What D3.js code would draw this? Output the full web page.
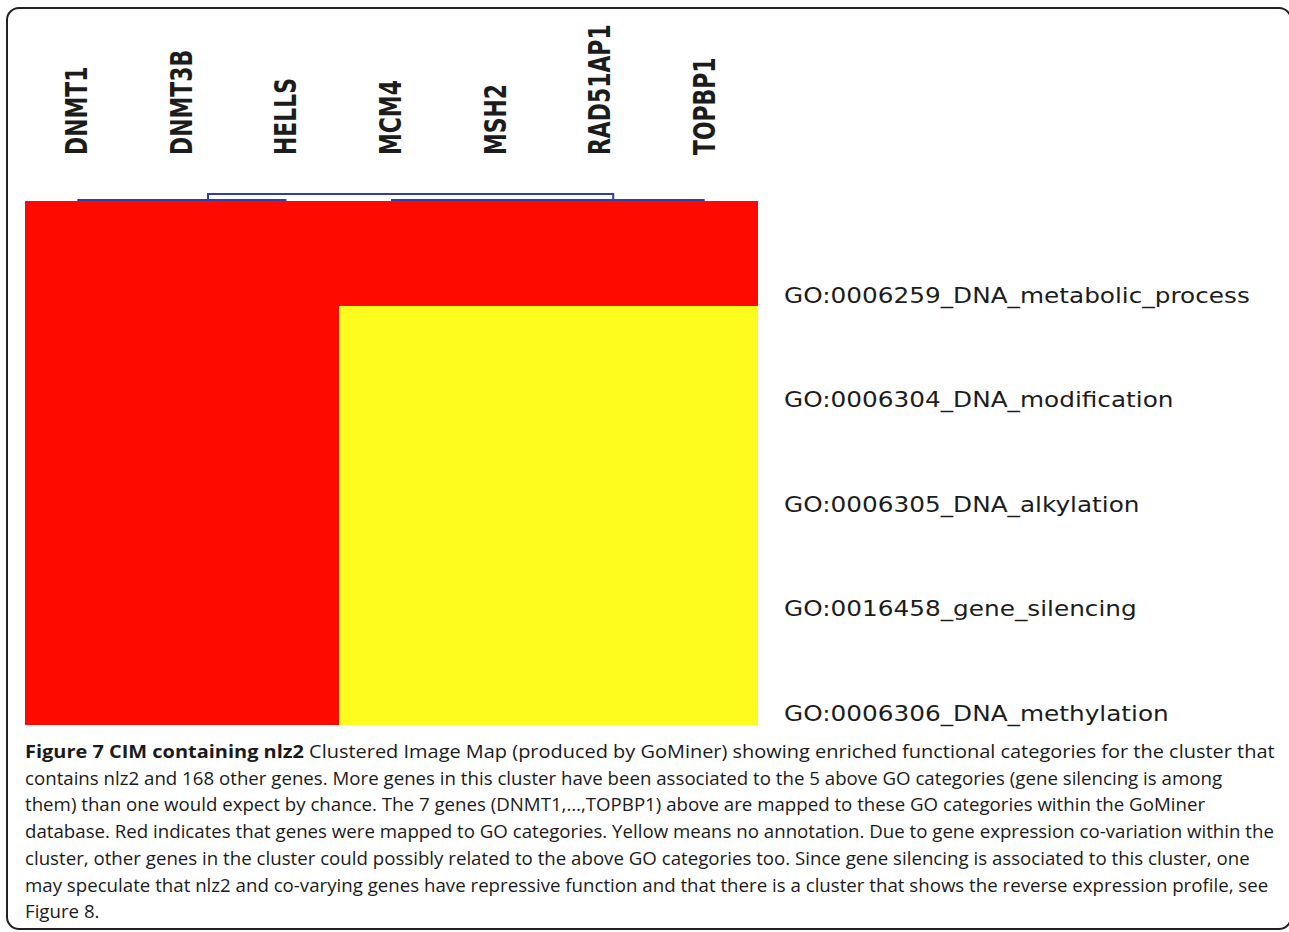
<!DOCTYPE html>
<html>
<head>
<meta charset="utf-8">
<script src="https://cdn.jsdelivr.net/npm/d3@7"></script>
<style>
  body { margin: 0; background: #fff; }
  svg { display: block; }
</style>
</head>
<body>
<div id="viz"></div>
<script>
// genes (columns) and GO categories (rows)
const genes = ['DNMT1', 'DNMT3B', 'HELLS', 'MCM4', 'MSH2', 'RAD51AP1', 'TOPBP1'];
const categories = [
  'GO:0006259_DNA_metabolic_process',
  'GO:0006304_DNA_modification',
  'GO:0006305_DNA_alkylation',
  'GO:0016458_gene_silencing',
  'GO:0006306_DNA_methylation'
];
// 1 = gene mapped to category (red), 0 = no annotation (yellow)
const mapped = [
  [1, 1, 1, 1, 1, 1, 1],
  [1, 1, 1, 0, 0, 0, 0],
  [1, 1, 1, 0, 0, 0, 0],
  [1, 1, 1, 0, 0, 0, 0],
  [1, 1, 1, 0, 0, 0, 0]
];
// gene dendrogram, merge heights
const geneTree = {
  height: 1, children: [
    { height: 0, children: [
      { height: 0, children: [{ name: 'DNMT1' }, { name: 'DNMT3B' }] },
      { name: 'HELLS' }
    ] },
    { height: 0, children: [
      { height: 0, children: [
        { height: 0, children: [{ name: 'MCM4' }, { name: 'MSH2' }] },
        { name: 'RAD51AP1' }
      ] },
      { name: 'TOPBP1' }
    ] }
  ]
};
const captionBold = 'Figure 7 CIM containing nlz2';
const captionLines = [
  ' Clustered Image Map (produced by GoMiner) showing enriched functional categories for the cluster that',
  'contains nlz2 and 168 other genes. More genes in this cluster have been associated to the 5 above GO categories (gene silencing is among',
  'them) than one would expect by chance. The 7 genes (DNMT1,\u2026,TOPBP1) above are mapped to these GO categories within the GoMiner',
  'database. Red indicates that genes were mapped to GO categories. Yellow means no annotation. Due to gene expression co-variation within the',
  'cluster, other genes in the cluster could possibly related to the above GO categories too. Since gene silencing is associated to this cluster, one',
  'may speculate that nlz2 and co-varying genes have repressive function and that there is a cluster that shows the reverse expression profile, see',
  'Figure 8.'
];

const width = 1289, height = 932;
const svg = d3.select('#viz').append('svg')
  .attr('width', width)
  .attr('height', height);

// frame
svg.append('rect')
  .attr('x', 7).attr('y', 8)
  .attr('width', 1284).attr('height', 921)
  .attr('rx', 12)
  .attr('fill', 'none')
  .attr('stroke', '#222')
  .attr('stroke-width', 2);

const x = d3.scaleBand().domain(genes).range([25, 757]).padding(0);
const y = d3.scaleBand().domain(categories).range([201, 724]).padding(0);
const color = d3.scaleOrdinal().domain([1, 0]).range(['#fe0a00', '#fdfc1e']);

// heatmap cells
const cells = [];
categories.forEach((c, i) => genes.forEach((g, j) => cells.push({ c, g, v: mapped[i][j] })));
svg.append('g')
  .attr('shape-rendering', 'crispEdges')
  .selectAll('rect')
  .data(cells)
  .enter().append('rect')
  .attr('x', d => Math.round(x(d.g)))
  .attr('y', d => Math.round(y(d.c)))
  .attr('width', d => Math.round(x(d.g) + x.bandwidth()) - Math.round(x(d.g)) + 1)
  .attr('height', d => Math.round(y(d.c) + y.bandwidth()) - Math.round(y(d.c)) + 1)
  .attr('fill', d => color(d.v));

// dendrogram
const root = d3.hierarchy(geneTree);
const hy = d3.scaleLinear().domain([0, 1]).range([200, 194]);
root.eachAfter(n => {
  if (n.children) {
    n.px = d3.mean(n.children, c => c.px);
    n.py = hy(n.data.height);
  } else {
    n.px = x(n.data.name) + x.bandwidth() / 2;
    n.py = hy(0);
  }
});
svg.append('g')
  .selectAll('path')
  .data(root.descendants().filter(n => n.children))
  .enter().append('path')
  .attr('d', n => {
    const [a, b] = n.children;
    return `M${a.px},${a.py}V${n.py}H${b.px}V${b.py}`;
  })
  .attr('fill', 'none')
  .attr('stroke', '#2f3fa6')
  .attr('stroke-width', 2);

// column labels
svg.append('g')
  .selectAll('text')
  .data(genes)
  .enter().append('text')
  .attr('transform', d => `translate(${x(d) + x.bandwidth() / 2 + 10},155) rotate(-90) scale(0.73,1)`)
  .attr('font-family', 'DejaVu Sans')
  .attr('font-weight', 'bold')
  .attr('font-size', 30)
  .attr('fill', '#1c1c1c')
  .text(d => d);

// row labels
const rowLabels = svg.append('g')
  .selectAll('text')
  .data(categories)
  .enter().append('text')
  .attr('x', 0)
  .attr('y', 0)
  .attr('font-family', 'DejaVu Sans')
  .attr('font-size', 22)
  .attr('fill', '#1c1c1c')
  .text(d => d);
const firstW = rowLabels.node().getComputedTextLength();
const rowScale = 466 / firstW;
rowLabels.attr('transform', d => `translate(784,${y(d) + y.bandwidth() - 3}) scale(${rowScale},1)`);

// caption
const cap = svg.append('g').attr('font-family', 'Open Sans').attr('font-size', 18.5).attr('fill', '#1a1a1a');
const lineH = 26.7;
const first = cap.append('text').attr('x', 0).attr('y', 0);
first.append('tspan').attr('font-weight', 'bold').text(captionBold);
first.append('tspan').text(captionLines[0]);
const rest = cap.selectAll('text.rest')
  .data(captionLines.slice(1))
  .enter().append('text')
  .attr('class', 'rest')
  .attr('x', 0)
  .attr('y', 0)
  .text(d => d);
// first line spans the full column; the "database." line also reaches the right edge
const s1 = 1250 / first.node().getComputedTextLength();
first.attr('transform', `translate(25,758) scale(${s1},1)`);
const sRest = 1250 / rest.nodes()[2].getComputedTextLength();
rest.attr('transform', (d, i) => `translate(25,${758 + lineH * (i + 1)}) scale(${sRest},1)`);
</script>
</body>
</html>
